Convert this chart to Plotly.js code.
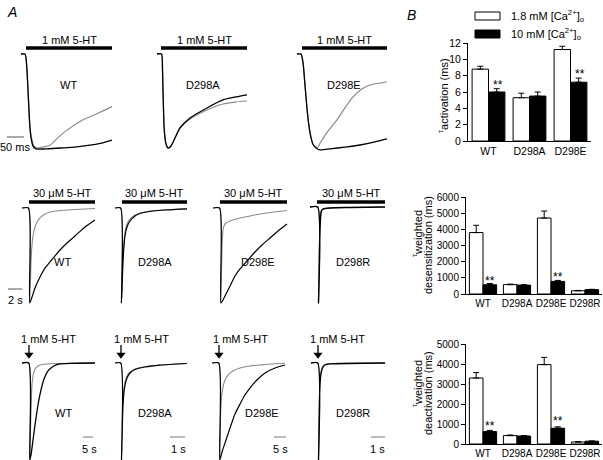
<!DOCTYPE html>
<html><head><meta charset="utf-8">
<script src="https://cdn.plot.ly/plotly-3.0.1.min.js"></script>
<style>html,body{margin:0;padding:0;background:#fff}#c{width:603px;height:460px}</style>
</head><body><div id="c"></div>
<script>
// ---------- DATA (time, normalised current) ----------
// Top row: 1 mM 5-HT, time in ms
const topWtBlackT=[-14.7,-2.9,0,2.9,5.9,8.8,11.8,14.7,20.6,29.4,55.9,100,144,188,218,253];
const topWtBlackI=[0,0,-0.04,-0.17,-0.38,-0.60,-0.79,-0.89,-0.98,-1.01,-1.01,-1.0,-0.99,-0.97,-0.95,-0.915];
const topWtGrayT=[-14.7,-2.9,0,2.9,5.9,8.8,11.8,17.6,23.5,32.3,47,70.6,94,120.5,167.6,217.6,252.8];
const topWtGrayI=[0,0,-0.04,-0.19,-0.40,-0.62,-0.79,-0.915,-0.98,-1.0,-0.99,-0.97,-0.89,-0.81,-0.70,-0.62,-0.56];
const topABlackT=[-11.8,1.5,4.4,5.9,7.4,8.8,11.8,14.7,20.6,29.4,41.2,55.9,85.3,135.2,182.3,252.8];
const topABlackI=[0,0,-0.17,-0.383,-0.596,-0.755,-0.894,-0.957,-1.0,-0.979,-0.894,-0.787,-0.681,-0.574,-0.489,-0.436];
const topAGrayT=[-11.8,1.5,4.4,5.9,7.4,8.8,11.8,14.7,20.6,29.4,41.2,55.9,85.3,135.2,182.3,217.6,252.8];
const topAGrayI=[0,0,-0.17,-0.383,-0.596,-0.755,-0.894,-0.957,-1.0,-0.979,-0.894,-0.787,-0.691,-0.596,-0.532,-0.511,-0.5];
const topEBlackT=[-14.7,-2.9,2.9,8.8,14.7,20.6,26.5,32.3,41.2,52.9,82.3,126.4,170.5,214.6,249.9];
const topEBlackI=[0,0,-0.09,-0.33,-0.58,-0.77,-0.89,-0.96,-1.0,-1.02,-1.01,-0.99,-0.968,-0.936,-0.904];
const topEGrayT=[-14.7,-2.9,2.9,8.8,14.7,20.6,26.5,32.3,41.2,47,52.9,76.4,102.9,126.4,150,176.4,199.9,229.3,249.9];
const topEGrayI=[0,0,-0.09,-0.33,-0.58,-0.77,-0.89,-0.96,-0.99,-0.99,-0.95,-0.82,-0.70,-0.574,-0.457,-0.372,-0.33,-0.309,-0.298];
// Middle row: 30 uM 5-HT, time in s
const midWtGrayT=[-0.98,-0.07,0.07,0.168,0.28,0.42,0.56,0.84,1.12,1.54,2.24,2.94,4.34,6.44,9.24];
const midWtGrayI=[0,0,-1,-0.863,-0.568,-0.389,-0.295,-0.2,-0.147,-0.105,-0.063,-0.042,-0.026,-0.016,-0.005];
const midWtBlackT=[-0.98,-0.07,0.1,0.42,0.84,1.54,2.24,2.94,3.64,4.34,5.32,6.44,7.84,9.24];
const midWtBlackI=[0,0,-1,-0.937,-0.842,-0.726,-0.632,-0.568,-0.505,-0.442,-0.368,-0.295,-0.2,-0.126];
const midAGrayT=[-0.84,-0.056,0.056,0.14,0.21,0.28,0.42,0.56,0.84,1.26,1.96,2.66,4.06,6.16,9.24];
const midAGrayI=[0,0,-1,-0.81,-0.632,-0.495,-0.337,-0.253,-0.168,-0.116,-0.074,-0.053,-0.032,-0.021,-0.01];
const midABlackT=[-0.84,-0.056,0.056,0.14,0.21,0.28,0.42,0.56,0.84,1.26,1.96,2.66,4.06,6.16,9.24];
const midABlackI=[0,0,-1,-0.863,-0.705,-0.568,-0.4,-0.295,-0.2,-0.137,-0.084,-0.058,-0.037,-0.021,-0.01];
const midEGrayT=[-0.98,-0.056,0.084,0.168,0.238,0.322,0.42,0.56,0.84,1.4,2.8,4.2,5.6,7.0,9.38];
const midEGrayI=[0,0,-1,-0.81,-0.547,-0.337,-0.232,-0.189,-0.158,-0.137,-0.105,-0.084,-0.063,-0.047,-0.026];
const midEBlackT=[-0.98,-0.056,0.14,0.42,0.84,1.4,2.1,2.8,3.78,4.9,5.88,7.0,8.12,9.38];
const midEBlackI=[0,0,-1,-0.968,-0.905,-0.821,-0.716,-0.642,-0.558,-0.463,-0.389,-0.316,-0.242,-0.168];
const midRGrayT=[-1.12,-0.042,0.07,0.14,0.21,0.28,0.378,0.49,0.7,1.68,4.48,9.38];
const midRGrayI=[0,0,-1,-0.656,-0.344,-0.156,-0.052,-0.03,-0.021,-0.01,-0.005,0];
const midRBlackT=[-1.12,-0.042,0.07,0.14,0.21,0.28,0.378,0.49,0.7,1.68,4.48,9.38];
const midRBlackI=[0,0,-1,-0.76,-0.448,-0.24,-0.094,-0.042,-0.021,-0.01,-0.005,0];
// Bottom row: 1 mM 5-HT pulse, time in s
const botWtGrayT=[-3.5,-0.15,0.3,0.75,1,1.5,2,3,4.5,6.5,13,33];
const botWtGrayI=[0,0,-1,-0.69,-0.485,-0.227,-0.134,-0.062,-0.031,-0.015,-0.005,0];
const botWtBlackT=[-3.5,-0.15,0.4,1,2,3,4.5,6,7.5,9.5,12,15.5,20.5,33];
const botWtBlackI=[0,0,-1,-0.948,-0.794,-0.639,-0.433,-0.278,-0.165,-0.082,-0.036,-0.01,-0.003,0];
const botAGrayT=[-0.4,-0.02,0.033,0.067,0.1,0.133,0.2,0.267,0.4,0.6,0.933,1.6,2.6,4.4];
const botAGrayI=[0,0,-1,-0.69,-0.485,-0.361,-0.258,-0.196,-0.134,-0.093,-0.062,-0.036,-0.021,-0.005];
const botABlackT=[-0.4,-0.02,0.033,0.067,0.1,0.133,0.2,0.267,0.4,0.6,0.933,1.6,2.6,4.4];
const botABlackI=[0,0,-1,-0.794,-0.588,-0.433,-0.299,-0.227,-0.155,-0.103,-0.067,-0.041,-0.021,-0.005];
const botEGrayT=[-2.92,-0.125,0.25,0.54,0.83,1.46,2.5,3.75,5.84,8.76,12.9,17.1,22.1,27.5];
const botEGrayI=[0,0,-1,-0.639,-0.433,-0.278,-0.175,-0.124,-0.082,-0.052,-0.031,-0.021,-0.01,-0.003];
const botEBlackT=[-2.92,-0.125,0.33,1.25,2.92,4.59,6.67,8.76,10.8,12.9,15.8,19.2,23.4,27.5];
const botEBlackI=[0,0,-1,-0.918,-0.794,-0.67,-0.526,-0.423,-0.33,-0.258,-0.175,-0.103,-0.052,-0.021];
const botRGrayT=[-0.5,-0.021,0.036,0.071,0.107,0.143,0.214,0.321,0.5,0.857,4.79];
const botRGrayI=[0,0,-1,-0.62,-0.33,-0.18,-0.09,-0.04,-0.015,-0.005,0];
const botRBlackT=[-0.5,-0.021,0.036,0.071,0.107,0.143,0.214,0.321,0.5,0.857,4.79];
const botRBlackI=[0,0,-1,-0.69,-0.381,-0.227,-0.113,-0.052,-0.021,-0.01,0];

// Panel B bar data
const cat3=['WT','D298A','D298E'];
const act18=[8.8,5.3,11.2], act18Err=[0.35,0.55,0.4];
const act10=[6.0,5.5,7.2],  act10Err=[0.4,0.5,0.5];
const cat4=['WT','D298A','D298E','D298R'];
const des18=[3800,580,4700,200], des18Err=[450,30,430,20];
const des10=[570,550,780,270],   des10Err=[80,20,60,20];
const dea18=[3300,420,3970,100], dea18Err=[270,30,360,15];
const dea10=[620,400,790,140],   dea10Err=[60,20,70,10];
const legendText=['1.8 mM [Ca<sup>2+</sup>]<sub>o</sub>','10 mM [Ca<sup>2+</sup>]<sub>o</sub>'];

// ---------- LAYOUT ----------
const W=603,H=460, FONT='Liberation Sans, Arial, sans-serif';
const GRAY='#8a8a8a';
const layout={width:W,height:H,margin:{l:0,r:0,t:0,b:0},showlegend:false,
  paper_bgcolor:'#fff',plot_bgcolor:'rgba(0,0,0,0)',font:{family:FONT,size:11,color:'#000'},
  annotations:[],shapes:[],barmode:'group'};
const data=[];
function ax(i){return i===1?'':String(i);}
function panel(i,box,onset,upp,base,ppu){
  const [x0,x1,y0,y1]=box;
  layout['xaxis'+ax(i)]={domain:[x0/W,x1/W],range:[(x0-onset)*upp,(x1-onset)*upp],visible:false,anchor:'y'+ax(i),fixedrange:true};
  layout['yaxis'+ax(i)]={domain:[1-y1/H,1-y0/H],range:[-(y1-base)/ppu,(base-y0)/ppu],visible:false,anchor:'x'+ax(i),fixedrange:true};
}
function line(i,t,v,color,w){data.push({type:'scatter',mode:'lines',x:t,y:v,xaxis:'x'+ax(i),yaxis:'y'+ax(i),
  line:{color:color,width:w,shape:'spline',smoothing:0.6},hoverinfo:'skip'});}
function hbar(i,x0,x1,y,w,color){layout.shapes.push({type:'line',xref:'x'+ax(i),yref:'y'+ax(i),x0:x0,x1:x1,y0:y,y1:y,line:{color:color||'#000',width:w}});}
function txt(x,y,t,opt){layout.annotations.push(Object.assign({xref:'paper',yref:'paper',x:x/W,y:1-y/H,text:t,showarrow:false,
  font:{family:FONT,size:11,color:'#000'},xanchor:'center',yanchor:'middle'},opt||{}));}

// panels
panel(1,[0,120,35,155],26,2.94,54,94);
panel(2,[140,260,35,155],161,2.94,54,94);
panel(3,[285,400,35,155],302,2.94,54,94);
panel(4,[0,102,185,305],29,0.14,208,95);
panel(5,[104,198,185,305],121,0.14,208,95);
panel(6,[200,298,185,305],220,0.14,208,95);
panel(7,[300,398,185,305],318,0.14,207,96);
panel(8,[0,102,335,460],29,0.5,363,97);
panel(9,[104,198,335,460],121,1/15,363,97);
panel(10,[200,298,335,460],219,0.417,363,97);
panel(11,[300,398,335,460],318,1/14,363,97);

line(1,topWtGrayT,topWtGrayI,GRAY,1.2); line(1,topWtBlackT,topWtBlackI,'#000',1.3);
line(2,topAGrayT,topAGrayI,GRAY,1.2); line(2,topABlackT,topABlackI,'#000',1.3);
line(3,topEGrayT,topEGrayI,GRAY,1.2); line(3,topEBlackT,topEBlackI,'#000',1.3);
line(4,midWtGrayT,midWtGrayI,GRAY,1.1); line(4,midWtBlackT,midWtBlackI,'#000',1.2);
line(5,midAGrayT,midAGrayI,GRAY,1.1); line(5,midABlackT,midABlackI,'#000',1.2);
line(6,midEGrayT,midEGrayI,GRAY,1.1); line(6,midEBlackT,midEBlackI,'#000',1.2);
line(7,midRGrayT,midRGrayI,GRAY,1.1); line(7,midRBlackT,midRBlackI,'#000',1.4);
line(8,botWtGrayT,botWtGrayI,GRAY,1.1); line(8,botWtBlackT,botWtBlackI,'#000',1.3);
line(9,botAGrayT,botAGrayI,GRAY,1.1); line(9,botABlackT,botABlackI,'#000',1.2);
line(10,botEGrayT,botEGrayI,GRAY,1.1); line(10,botEBlackT,botEBlackI,'#000',1.2);
line(11,botRGrayT,botRGrayI,GRAY,1.1); line(11,botRBlackT,botRBlackI,'#000',1.3);

// application bars
hbar(1,0,252.8,0.064,3.5); hbar(2,0,252.8,0.064,3.5); hbar(3,0,249.9,0.064,3.5);
hbar(4,0,9.24,0.063,3.5); hbar(5,0.14,9.24,0.063,3.5); hbar(6,0,9.38,0.063,3.5); hbar(7,-0.14,9.38,0.053,3.5);
// scale bars
hbar(1,-55.9,-5.9,-0.883,1,'#555');
hbar(4,-2.94,-0.94,-0.853,1,'#555');
hbar(8,27,32,-0.763,1,'#777'); hbar(9,3.27,4.27,-0.763,1,'#777');
hbar(10,22.9,27.9,-0.763,1,'#777'); hbar(11,3.79,4.79,-0.763,1,'#777');
// application arrows (bottom row): shaft + triangle head at the onset
[8,9,10,11].forEach(i=>{
  layout.shapes.push({type:'line',xref:'x'+ax(i),yref:'y'+ax(i),x0:0,x1:0,y0:0.186,y1:0.1,line:{color:'#000',width:1.3}});
  data.push({type:'scatter',mode:'markers',x:[0],y:[0.085],xaxis:'x'+ax(i),yaxis:'y'+ax(i),
    marker:{symbol:'triangle-down',size:8,color:'#000',line:{width:0}},hoverinfo:'skip'});
});

// texts panel A
txt(12,12,'<i>A</i>',{font:{family:FONT,size:14,color:'#000'}});
[[69,'WT',68],[204,'D298A',203],[344,'D298E',344]].forEach(([cx,l,lx])=>{txt(cx,40,'1 mM 5-HT');txt(lx,85,l);});
txt(15,147,'50 ms');
[[62,62,'WT'],[154,155,'D298A'],[253,258,'D298E'],[351,353,'D298R']].forEach(([cx,lx,l])=>{txt(cx,193,'30 μM 5-HT');txt(lx,262,l);});
txt(15,300,'2 s');
[[48,63,'WT'],[141,155,'D298A'],[240,262,'D298E'],[337,353,'D298R']].forEach(([cx,lx,l])=>{txt(cx,339,'1 mM 5-HT');txt(lx,413,l);});
[[89,'5 s'],[178,'1 s'],[280,'5 s'],[377,'1 s']].forEach(([x,t])=>txt(x,449,t));

// ---------- PANEL B ----------
txt(411,15,'<i>B</i>',{font:{family:FONT,size:14,color:'#000'}});
layout.shapes.push({type:'rect',xref:'paper',yref:'paper',x0:475/W,x1:500/W,y0:1-20/H,y1:1-12/H,line:{color:'#000',width:1},fillcolor:'#fff'});
layout.shapes.push({type:'rect',xref:'paper',yref:'paper',x0:475/W,x1:500/W,y0:1-38/H,y1:1-30/H,line:{color:'#000',width:1},fillcolor:'#000'});
txt(509,16,legendText[0],{xanchor:'left'});
txt(509,34,legendText[1],{xanchor:'left'});

const TICKF={family:FONT,size:10,color:'#000'};
function barAxes(i,xb,yb,range,dtick){
  layout['xaxis'+i]={domain:[xb[0]/W,xb[1]/W],anchor:'y'+i,type:'category',range:[-0.5,(i===12?2.5:3.5)],tickangle:0,
    showline:true,linecolor:'#000',linewidth:1,ticks:'',showgrid:false,zeroline:false,tickfont:TICKF,fixedrange:true};
  layout['yaxis'+i]={domain:[1-yb[1]/H,1-yb[0]/H],anchor:'x'+i,range:range,dtick:dtick,showline:true,linecolor:'#000',linewidth:1,
    ticks:'outside',ticklen:4,tickcolor:'#000',showgrid:false,zeroline:false,tickfont:TICKF,fixedrange:true};
}
barAxes(12,[468,591],[43,141],[0,12],2);
barAxes(13,[466,602],[197,294],[0,6000],1000);
barAxes(14,[466,602],[344,444],[0,5000],1000);
layout.xaxis12.tickfont={family:FONT,size:10.5,color:'#000'};
layout.yaxis12.tickfont={family:FONT,size:10.5,color:'#000'};
function bars(i,cats,v,e,fill){data.push({type:'bar',x:cats,y:v,xaxis:'x'+i,yaxis:'y'+i,marker:{color:fill,line:{color:'#000',width:1}},
  error_y:{type:'data',array:e,arrayminus:e.map(()=>0),symmetric:false,color:'#000',thickness:1,width:3},hoverinfo:'skip'});}
bars(12,cat3,act18,act18Err,'#fff'); bars(12,cat3,act10,act10Err,'#000');
bars(13,cat4,des18,des18Err,'#fff'); bars(13,cat4,des10,des10Err,'#000');
bars(14,cat4,dea18,dea18Err,'#fff'); bars(14,cat4,dea10,dea10Err,'#000');
layout.bargap=0.2; layout.bargroupgap=0;

function stars(i,cat,y,shift){layout.annotations.push({xref:'x'+i,yref:'y'+i,x:cat,y:y,xshift:shift,yshift:-3,text:'**',showarrow:false,
  font:{family:FONT,size:12,color:'#000'},xanchor:'center',yanchor:'middle'});}
stars(12,'WT',7.2,9); stars(12,'D298E',8.6,9);
stars(13,'WT',990,7); stars(13,'D298E',1240,7);
stars(14,'WT',1050,7); stars(14,'D298E',1300,7);

txt(443,96,'<sup>τ</sup>activation (ms)',{textangle:-90});
txt(417,234,'<sup>τ</sup>weighted',{textangle:-90});
txt(428,245,'desensitization (ms)',{textangle:-90});
txt(417,384,'<sup>τ</sup>weighted',{textangle:-90});
txt(428,393,'deactivation (ms)',{textangle:-90});

Plotly.newPlot('c',data,layout,{staticPlot:true,displayModeBar:false});
</script></body></html>
